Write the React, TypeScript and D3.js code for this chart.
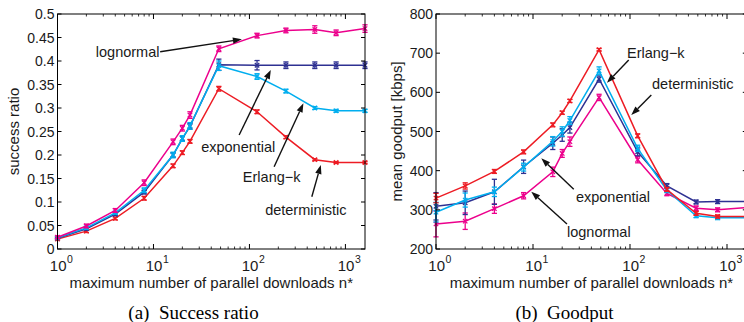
import React from 'react';
import * as d3 from 'd3';

// ---------- data ----------
const nValues = [1, 2, 4, 8, 16, 20, 24, 48, 120, 240, 480, 800, 1600];

const successLognormal = [0.025, 0.049, 0.082, 0.141, 0.228, 0.257, 0.285, 0.426, 0.454, 0.465, 0.467, 0.46, 0.469];
const successExponential = [0.023, 0.043, 0.074, 0.121, 0.2, 0.235, 0.261, 0.392, 0.391, 0.391, 0.391, 0.391, 0.391];
const successErlang = [0.024, 0.045, 0.077, 0.125, 0.2, 0.235, 0.262, 0.39, 0.367, 0.336, 0.3, 0.294, 0.294];
const successDeterministic = [0.021, 0.038, 0.065, 0.108, 0.177, 0.205, 0.229, 0.341, 0.292, 0.238, 0.19, 0.184, 0.184];

const successErrLognormal = [0.003, 0.004, 0.004, 0.006, 0.006, 0.006, 0.007, 0.006, 0.005, 0.005, 0.008, 0.006, 0.008];
const successErrExponential = [0.002, 0.003, 0.003, 0.004, 0.005, 0.005, 0.006, 0.012, 0.01, 0.007, 0.007, 0.007, 0.007];
const successErrErlang = [0.002, 0.003, 0.003, 0.005, 0.006, 0.006, 0.007, 0.01, 0.006, 0.004, 0.003, 0.003, 0.003];
const successErrDeterministic = [0.002, 0.003, 0.003, 0.004, 0.004, 0.004, 0.004, 0.005, 0.004, 0.003, 0.002, 0.002, 0.002];

const goodputLognormal = [264, 271, 303, 336, 397, 444, 474, 587, 428, 342, 304, 300, 306];
const goodputExponential = [309, 318, 346, 410, 470, 491, 510, 634, 448, 361, 320, 321, 321];
const goodputErlang = [294, 325, 346, 409, 475, 500, 528, 655, 457, 350, 285, 280, 280];
const goodputDeterministic = [330, 361, 398, 448, 517, 548, 578, 709, 489, 352, 291, 283, 283];

const goodputErrLognormal = [33, 21, 12, 8, 12, 10, 12, 8, 8, 6, 6, 5, 5];
const goodputErrExponential = [35, 30, 32, 17, 16, 16, 14, 8, 10, 6, 5, 5, 5];
const goodputErrErlang = [25, 18, 12, 10, 12, 12, 10, 10, 8, 6, 5, 5, 5];
const goodputErrDeterministic = [12, 8, 5, 5, 5, 4, 4, 3, 5, 5, 5, 4, 4];

const successTickLabels = ['0', '0.05', '0.1', '0.15', '0.2', '0.25', '0.3', '0.35', '0.4', '0.45', '0.5'];
const goodputTickLabels = ['200', '300', '400', '500', '600', '700', '800'];
const xMajorTicks = [1, 10, 100, 1000];
const xMajorExponents = ['0', '1', '2', '3'];

const colors = {
  lognormal: '#ec008c',
  exponential: '#2e3192',
  erlang: '#00aeef',
  deterministic: '#ed1c24',
};

// annotations in data coordinates: text anchor point, arrow tail, arrow head
const successNotes = [
  { label: 'lognormal', anchor: 'end', tx: 11.55, ty: 0.409, x1: 11.74, y1: 0.4198, x2: 83.4, y2: 0.4462 },
  { label: 'exponential', anchor: 'start', tx: 31.4, ty: 0.207, x1: 78.1, y1: 0.2426, x2: 167, y2: 0.381 },
  { label: 'Erlang\u2212k', anchor: 'start', tx: 85.4, ty: 0.1432, x1: 180.8, y1: 0.1751, x2: 365, y2: 0.31 },
  { label: 'deterministic', anchor: 'start', tx: 145.7, ty: 0.0723, x1: 446.7, y1: 0.1113, x2: 554, y2: 0.1787 },
];
const goodputNotes = [
  { label: 'Erlang\u2212k', anchor: 'start', tx: 93.1, ty: 686.8, x1: 97, y1: 682.5, x2: 57.9, y2: 624.6 },
  { label: 'deterministic', anchor: 'start', tx: 168.6, ty: 607.7, x1: 165.8, y1: 593.2, x2: 103.1, y2: 542.1 },
  { label: 'exponential', anchor: 'start', tx: 27.7, ty: 320.8, x1: 26.3, y1: 352.4, x2: 12.18, y2: 431.6 },
  { label: 'lognormal', anchor: 'start', tx: 22.4, ty: 231.4, x1: 22.4, y1: 263.8, x2: 9.6, y2: 346.3 },
];

const SANS = '"Liberation Sans", Arial, Helvetica, sans-serif';
const SERIF = '"Liberation Serif", "Times New Roman", serif';
const TXT = '#1a1a1a';

type Series = { color: string; values: number[]; errs: number[] };
type Note = { label: string; anchor: string; tx: number; ty: number; x1: number; y1: number; x2: number; y2: number };

function Panel(props: {
  x0: number; x1: number; yTop: number; yBot: number;
  yTickLabels: string[]; series: Series[]; notes: Note[];
  yLabel: string; yLabelX: number; caption: [string, string]; captionX: number;
}) {
  const { x0, x1, yTop, yBot, yTickLabels, series, notes, yLabel, yLabelX, caption, captionX } = props;
  const yVals = yTickLabels.map((s) => parseFloat(s));
  const x = d3.scaleLog().domain([1, 1600]).range([x0, x1]);
  const y = d3.scaleLinear().domain([yVals[0], yVals[yVals.length - 1]]).range([yBot, yTop]);
  const line = d3.line<number>().x((_, i) => x(nValues[i])).y((v) => y(v));
  const minor: number[] = [];
  xMajorTicks.forEach((d) => {
    for (let k = 2; k <= 9; k++) if (d * k <= 1600) minor.push(d * k);
  });
  const right = x1;
  const cx = (x0 + x1) / 2;
  const cy = (yTop + yBot) / 2;
  return (
    <g>
      {/* series */}
      {series.map((s, si) => (
        <g key={si}>
          <path d={line(s.values) || ''} fill="none" stroke={s.color} strokeWidth={1.5} />
          {s.values.map((v, i) => {
            const px = x(nValues[i]);
            const ya = y(v - s.errs[i]);
            const yb = y(v + s.errs[i]);
            const py = y(v);
            return (
              <g key={i} stroke={s.color} strokeWidth={1.3}>
                <line x1={px} x2={px} y1={ya} y2={yb} />
                <line x1={px - 2.6} x2={px + 2.6} y1={ya} y2={ya} />
                <line x1={px - 2.6} x2={px + 2.6} y1={yb} y2={yb} />
                <line x1={px - 2.2} x2={px + 2.2} y1={py - 2.2} y2={py + 2.2} />
                <line x1={px - 2.2} x2={px + 2.2} y1={py + 2.2} y2={py - 2.2} />
              </g>
            );
          })}
        </g>
      ))}
      {/* box */}
      <rect x={x0} y={yTop} width={x1 - x0} height={yBot - yTop} fill="none" stroke="#000" strokeWidth={1} />
      {/* y ticks */}
      {yVals.map((v, i) => (
        <g key={'y' + i}>
          <line x1={x0} x2={x0 + 4} y1={y(v)} y2={y(v)} stroke="#000" strokeWidth={1} />
          <line x1={right} x2={right - 4} y1={y(v)} y2={y(v)} stroke="#000" strokeWidth={1} />
          <text x={x0 - 3} y={y(v)} dy="0.36em" textAnchor="end" fontFamily={SANS} fontSize={14} fill={TXT}>
            {yTickLabels[i]}
          </text>
        </g>
      ))}
      {/* x ticks */}
      {xMajorTicks.map((v, i) => (
        <g key={'x' + i}>
          <line x1={x(v)} x2={x(v)} y1={yBot} y2={yBot - 5} stroke="#000" strokeWidth={1} />
          <line x1={x(v)} x2={x(v)} y1={yTop} y2={yTop + 5} stroke="#000" strokeWidth={1} />
          <text x={x(v) + 9} y={270.5} textAnchor="end" fontFamily={SANS} fontSize={15} fill={TXT}>10</text>
          <text x={x(v) + 9.5} y={263} textAnchor="start" fontFamily={SANS} fontSize={10.5} fill={TXT}>
            {xMajorExponents[i]}
          </text>
        </g>
      ))}
      {minor.map((v, i) => (
        <g key={'m' + i}>
          <line x1={x(v)} x2={x(v)} y1={yBot} y2={yBot - 2.5} stroke="#000" strokeWidth={0.8} />
          <line x1={x(v)} x2={x(v)} y1={yTop} y2={yTop + 2.5} stroke="#000" strokeWidth={0.8} />
        </g>
      ))}
      {/* annotations */}
      {notes.map((n, i) => {
        const ax = x(n.x1), ay = y(n.y1), bx = x(n.x2), by = y(n.y2);
        const ang = Math.atan2(by - ay, bx - ax);
        const L = 9, W = 3.2;
        const bxx = bx - L * Math.cos(ang), byy = by - L * Math.sin(ang);
        const p1 = [bxx + W * Math.sin(ang), byy - W * Math.cos(ang)];
        const p2 = [bxx - W * Math.sin(ang), byy + W * Math.cos(ang)];
        return (
          <g key={'n' + i}>
            <line x1={ax} y1={ay} x2={bxx} y2={byy} stroke="#111" strokeWidth={1.4} />
            <polygon points={`${bx},${by} ${p1[0]},${p1[1]} ${p2[0]},${p2[1]}`} fill="#111" />
            <text x={x(n.tx)} y={y(n.ty)} textAnchor={n.anchor as any} fontFamily={SANS} fontSize={14.5} fill={TXT}>
              {n.label}
            </text>
          </g>
        );
      })}
      {/* labels */}
      <text x={cx} y={287.5} textAnchor="middle" fontFamily={SANS} fontSize={15} fill={TXT}>
        maximum number of parallel downloads n*
      </text>
      <text transform={`translate(${yLabelX},${cy}) rotate(-90)`} textAnchor="middle" fontFamily={SANS} fontSize={15} fill={TXT}>
        {yLabel}
      </text>
      <text x={captionX} y={319} textAnchor="middle" fontFamily={SERIF} fontSize={19} fill="#000" style={{ whiteSpace: 'pre' }}>
        {caption[0] + '  ' + caption[1]}
      </text>
    </g>
  );
}

export default function App() {
  const successSeries: Series[] = [
    { color: colors.deterministic, values: successDeterministic, errs: successErrDeterministic },
    { color: colors.exponential, values: successExponential, errs: successErrExponential },
    { color: colors.erlang, values: successErlang, errs: successErrErlang },
    { color: colors.lognormal, values: successLognormal, errs: successErrLognormal },
  ];
  const goodputSeries: Series[] = [
    { color: colors.lognormal, values: goodputLognormal, errs: goodputErrLognormal },
    { color: colors.exponential, values: goodputExponential, errs: goodputErrExponential },
    { color: colors.erlang, values: goodputErlang, errs: goodputErrErlang },
    { color: colors.deterministic, values: goodputDeterministic, errs: goodputErrDeterministic },
  ];
  return (
    <svg width={744} height={322} style={{ position: 'absolute', left: 0, top: 0, display: 'block', background: '#fff' }}>
      <rect width={744} height={322} fill="#fff" />
      <Panel x0={57.5} x1={365} yTop={14} yBot={249} yTickLabels={successTickLabels} series={successSeries}
        notes={successNotes} yLabel="success ratio" yLabelX={18.5} caption={['(a)', 'Success ratio']} captionX={193.5} />
      <Panel x0={436} x1={746.8} yTop={14} yBot={249} yTickLabels={goodputTickLabels} series={goodputSeries}
        notes={goodputNotes} yLabel="mean goodput [kbps]" yLabelX={401.5} caption={['(b)', 'Goodput']} captionX={564.5} />
    </svg>
  );
}
